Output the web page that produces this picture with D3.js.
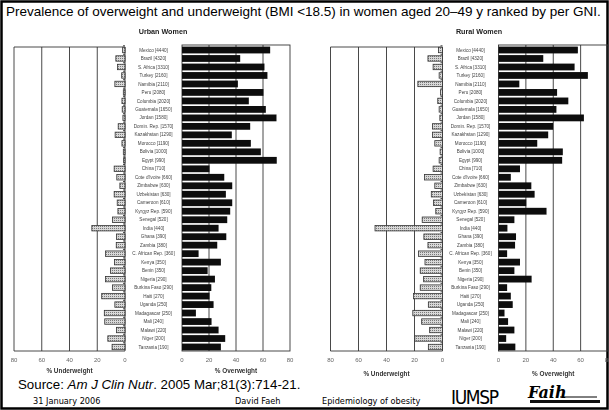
<!DOCTYPE html>
<html><head><meta charset="utf-8">
<script src="https://cdn.jsdelivr.net/npm/d3@7"></script>
<style>body{margin:0;background:#fff}svg{display:block}</style>
</head><body><svg id="c" width="609" height="410"></svg>
<script>
// Countries ranked by GNI per capita (US$ in brackets)
const countries = ["Mexico [4440]","Brazil [4320]","S. Africa [3310]","Turkey [2160]","Namibia [2110]",
  "Peru [2080]","Columbia [2020]","Guatemala [1650]","Jordan [1580]","Domin. Rep. [1570]",
  "Kazakhstan [1290]","Morocco [1190]","Bolivia [1000]","Egypt [990]","China [710]",
  "Cote d'Ivoire [660]","Zimbabwe [630]","Uzbekistan [630]","Cameroon [610]","Kyrgyz Rep. [590]",
  "Senegal [520]","India [440]","Ghana [390]","Zambia [380]","C. African Rep. [360]",
  "Kenya [350]","Benin [350]","Nigeria [290]","Burkina Faso [290]","Haiti [270]",
  "Uganda [250]","Madagascar [250]","Mali [240]","Malawi [220]","Niger [200]","Tanzania [190]"];

// % of women with BMI < 18.5
const urbanUnder = [1.7,6.6,5.4,2.4,7.3,1.2,2.2,2.0,1.5,4.9,7.1,2.2,1.2,1.0,7.8,5.9,3.7,7.8,5.6,5.1,
  9.0,23.9,6.1,6.3,14.1,7.6,10.5,14.1,9.0,16.8,7.3,14.9,14.6,6.1,12.4,9.3];
const ruralUnder = [2.9,10.4,6.7,2.4,17.6,1.4,3.4,2.4,1.9,7.2,7.2,5.5,1.7,2.4,6.7,12.8,5.5,8.0,6.5,4.8,
  14.5,48.2,13.3,10.4,17.1,12.5,15.9,13.5,15.9,20.7,10.1,21.2,14.9,9.2,19.8,10.1];
// % of women overweight
const urbanOver = [65.3,43.1,61.1,63.3,41.4,60.3,49.5,62.1,70.0,50.5,36.9,51.0,58.4,70.2,20.4,31.3,37.2,32.5,37.2,35.7,
  33.5,27.1,32.8,26.1,12.3,28.8,19.0,24.4,21.7,20.4,23.4,10.3,21.9,27.1,32.0,28.8];
const ruralOver = [58.0,32.7,55.6,65.3,15.2,42.8,51.0,42.3,62.4,39.9,36.3,28.3,47.0,46.5,15.7,9.0,24.0,26.4,20.3,35.1,
  11.6,6.5,12.8,12.1,6.3,15.7,11.6,24.2,6.3,9.0,10.4,4.4,7.0,11.6,5.6,12.3];

const xTicks = [0,20,40,60,80];

const svg = d3.select("#c");
const defs = svg.append("defs");
const pat = defs.append("pattern").attr("id","dots").attr("patternUnits","userSpaceOnUse")
  .attr("width",2).attr("height",2);
pat.append("rect").attr("width",2).attr("height",2).attr("fill","#d8d8d8");
pat.append("rect").attr("width",1).attr("height",1).attr("fill","#7a7a7a");
defs.append("filter").attr("id","soft").append("feGaussianBlur").attr("stdDeviation",0.35);

svg.append("rect").attr("x",1.5).attr("y",1.5).attr("width",606).attr("height",407)
  .attr("fill","#fff").attr("stroke","#000").attr("stroke-width",2.5);

svg.append("text").attr("x",6).attr("y",16)
  .attr("font-family","Liberation Sans, Arial, sans-serif").attr("font-size",13.5)
  .text("Prevalence of overweight and underweight (BMI <18.5) in women aged 20\u201349 y ranked by per GNI.");

const y = d3.scalePoint().domain(countries).range([50, 347]);
const plotTop = 46, plotBottom = 351;
const font = "Liberation Sans, Arial, sans-serif";

function panel(cfg, under, over) {
  const g = svg.append("g").attr("filter","url(#soft)");
  const xu = d3.scaleLinear().domain([0,80]).range(cfg.under);
  const xo = d3.scaleLinear().domain([0,80]).range(cfg.over);

  g.append("text").attr("x",cfg.titleX).attr("y",34).attr("text-anchor","middle")
    .attr("font-family",font).attr("font-weight","bold").attr("font-size",7.2).attr("fill","#222")
    .text(cfg.title);

  // underweight frame and grid
  const ug = g.append("g").attr("stroke","#333").attr("stroke-width",0.9).attr("fill","none");
  ug.append("path").attr("d",`M${xu(0)},${plotTop+1}H${xu(80)}V${plotBottom}H${xu(0)}V${plotTop+1}`);
  ug.selectAll("line.g").data([20,40,60]).join("line").attr("class","g")
    .attr("x1",d=>xu(d)).attr("x2",d=>xu(d)).attr("y1",plotTop+1).attr("y2",plotBottom);
  // small ticks on the zero axis between categories
  const step = y.step();
  ug.selectAll("line.t").data(countries).join("line").attr("class","t")
    .attr("x1",xu(0)).attr("x2",xu(0)-2)
    .attr("y1",d=>y(d)-step/2).attr("y2",d=>y(d)-step/2);

  // overweight frame and grid
  const og = g.append("g").attr("stroke","#333").attr("stroke-width",0.9).attr("fill","none");
  og.append("rect").attr("x",xo(0)).attr("y",plotTop-1).attr("width",xo(80)-xo(0)).attr("height",plotBottom-plotTop+1);
  og.selectAll("line").data([20,40,60]).join("line")
    .attr("x1",d=>xo(d)).attr("x2",d=>xo(d)).attr("y1",plotTop-1).attr("y2",plotBottom);

  // bars
  g.selectAll("rect.u").data(under).join("rect").attr("class","u")
    .attr("x",d=>xu(d)).attr("width",d=>xu(0)-xu(d))
    .attr("y",(d,i)=>y(countries[i])-2.7).attr("height",5.4)
    .attr("fill","url(#dots)").attr("stroke","#333").attr("stroke-width",0.8);
  g.selectAll("rect.o").data(over).join("rect").attr("class","o")
    .attr("x",xo(0)).attr("width",d=>xo(d)-xo(0))
    .attr("y",(d,i)=>y(countries[i])-3.4).attr("height",6.8)
    .attr("fill","#111");

  // country labels
  g.selectAll("text.c").data(countries).join("text").attr("class","c")
    .attr("x",(xu(0)+xo(0))/2).attr("y",d=>y(d)+1.6).attr("text-anchor","middle")
    .attr("font-family",font).attr("font-size",4.6).attr("fill","#444").text(d=>d);

  // tick labels
  [xu, xo].forEach(s => {
    g.selectAll(null).data(xTicks).join("text")
      .attr("x",d=>s(d)).attr("y",362).attr("text-anchor","middle")
      .attr("font-family",font).attr("font-size",6).attr("fill","#666").text(d=>d);
  });
  g.append("text").attr("x",(xu(0)+xu(80))/2).attr("y",cfg.labelY).attr("text-anchor","middle")
    .attr("font-family",font).attr("font-weight","bold").attr("font-size",6.4).attr("fill","#333")
    .text("% Underweight");
  g.append("text").attr("x",(xo(0)+xo(80))/2).attr("y",cfg.labelY).attr("text-anchor","middle")
    .attr("font-family",font).attr("font-weight","bold").attr("font-size",6.4).attr("fill","#333")
    .text("% Overweight");
}

panel({title:"Urban Women", titleX:163, under:[125,14], over:[182,290], labelY:373}, urbanUnder, urbanOver);
panel({title:"Rural Women", titleX:479, under:[442.5,330.5], over:[498.5,608], labelY:376}, ruralUnder, ruralOver);

// source and footer
const src = svg.append("text").attr("x",18).attr("y",389)
  .attr("font-family",font).attr("font-size",13.3);
src.append("tspan").text("Source: ");
src.append("tspan").attr("font-style","italic").text("Am J Clin Nutr");
src.append("tspan").text(". 2005 Mar;81(3):714-21.");

const foot = "DejaVu Sans, Verdana, sans-serif";
[["31 January 2006",33],["David Faeh",235],["Epidemiology of obesity",322]].forEach(([t,x])=>{
  svg.append("text").attr("x",x).attr("y",404).attr("font-family",foot).attr("font-size",8.2).text(t);
});
svg.append("text").attr("x",451).attr("y",404).attr("font-family","DejaVu Sans Condensed, DejaVu Sans, sans-serif")
  .attr("font-size",19).attr("textLength",48).text("IUMSP");
svg.append("text").attr("x",528).attr("y",398).attr("font-family","DejaVu Serif, serif")
  .attr("font-style","italic").attr("font-weight","bold").attr("font-size",16).text("Faih");
svg.append("line").attr("x1",560).attr("x2",597).attr("y1",397).attr("y2",397).attr("stroke","#000").attr("stroke-width",1);
svg.append("rect").attr("x",530).attr("y",400).attr("width",70).attr("height",3).attr("fill","#111");
</script></body></html>
